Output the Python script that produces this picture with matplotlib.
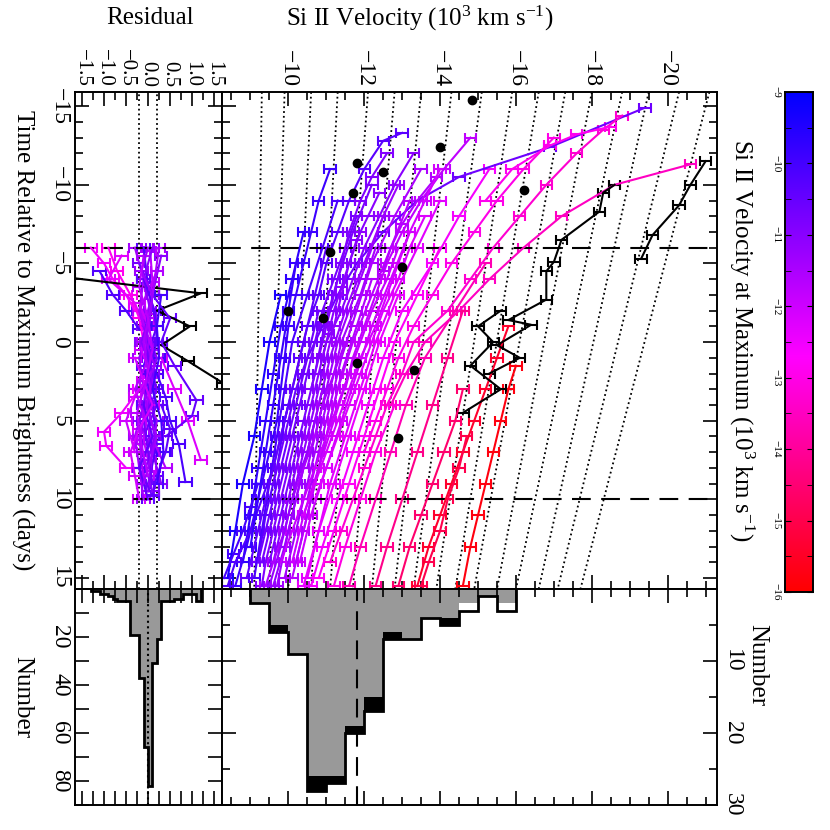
import numpy as np
import matplotlib
matplotlib.use("Agg")
import matplotlib.pyplot as plt
from matplotlib.colors import LinearSegmentedColormap, Normalize
from matplotlib.ticker import MultipleLocator, FixedLocator

plt.rcParams['font.family'] = ['Liberation Serif', 'DejaVu Serif']
plt.rcParams['mathtext.fontset'] = 'custom'
plt.rcParams['mathtext.rm'] = 'Liberation Serif'
plt.rcParams['mathtext.it'] = 'Liberation Serif:italic'
plt.rcParams['axes.linewidth'] = 1.4

# ---------------- data ----------------
# Si II velocity curves: time (days), velocity (10^3 km/s), velocity at max (None -> black)
curve_t = [
    [-3, 0, 3, 6, 9, 12, 15],
    [-7, -4, -1, 2, 5, 8, 11, 14],
    [-11, -9, -7, -5, -3, -1, 1, 3, 5, 7, 9, 11, 13, 15.5],
    [-9, -6, -3, 0, 3, 6, 9, 12, 15],
    [-13.3, -12.8, -11, -9, -7, -5, -3, -1, 1, 3, 5, 8, 11, 14],
    [-14.9, -12.4, -10.5, -9, -7, -5, -3, -1, 1, 3, 6, 9],
    [4, 6, 8, 10, 12, 14, 15.5],
    [9, 10.5, 12, 13.5, 15],
    [-6, -3, 0, 3, 6, 9, 12, 15],
    [-5, -2, 1, 4, 7, 10, 13],
    [-10, -7, -4, -1, 2, 5, 8, 11, 14],
    [-12, -10, -8, -6, -4, -2, 0, 2, 4, 6, 8, 10, 12, 14],
    [-8, -5, -2, 1, 4, 7, 10, 13, 15.5],
    [-6, -3, 0, 3, 6, 9, 12, 15],
    [-11, -8, -5, -2, 1, 4, 7, 10],
    [-4, -1, 2, 5, 8, 11, 14],
    [-9, -6, -3, 0, 3, 6, 9, 12, 15],
    [-13, -11, -9, -7, -5, -3, -1, 1, 3],
    [2, 5, 8, 11, 14],
    [-7, -5, -3, -1, 1, 3, 5, 7, 9],
    [3, 6, 9, 12, 15.5],
    [-7, -4, -1, 2, 5, 8, 11, 14],
    [-10.5, -9, -7.5, -6, -4.5],
    [6, 8, 10, 12, 14, 15.5],
    [-8, -6, -4, -2, 0, 2, 4, 6, 8, 10, 12, 14],
    [-10, -8, -6, -4, -2, 0, 2, 4, 6, 8],
    [-6, -4, -2, 0, 2, 4, 6, 8, 10, 12, 14],
    [-12, -10.5, -9, -7, -5, -3, -1, 1, 3],
    [0, 2, 4, 6, 8, 10, 12, 14, 15.5],
    [-11, -9, -7, -5, -3, -1, 1, 3, 5, 7, 9, 11],
    [-2, 0, 2, 4, 6, 8, 10, 12, 14],
    [5, 7, 9, 11, 13, 15.5],
    [-8, -6, -4, -2, 0, 2, 4, 6, 8, 10],
    [-9.5, -8, -6.5, -5, -3.5, -2, -0.5, 1],
    [-9, -6, -3, 0, 3, 6, 9, 12, 15],
    [-11, -8, -5, -2, 1, 4, 7, 10, 13, 15.5],
    [-6, -3, 0, 3, 6, 9, 12, 15],
    [-13, -11, -9, -7, -5, -3, -1, 1, 3, 5, 7],
    [-14.4, -13.5, -12, -10, -8, -6, -4, -2, 0, 2, 4, 6, 8, 10, 12, 14],
    [-11.3, -10, -8, -6, -4, -2, 0, 2, 4],
    [-3, 0, 3, 6, 9, 12, 15.5],
    [-5, -2, 1, 4, 7, 10, 13, 15.5],
    [-13.7, -13.2, -12.5, -11, -9],
    [4, 7, 10, 13, 15.5],
    [1.5, 3, 5, 7, 9, 11, 13, 15.5],
    [-1, 1, 3, 5, 7, 9, 11, 13, 15.5],
    [3, 5, 7, 9, 11, 13, 15.5],
    [-2, 1, 4, 7, 10, 13, 15.5],
    [6, 8, 10, 12, 14, 15.5],
    [-11.5, -10, -8.7, -6.8, -5.3],
    [-10, -9.5, -8.3, -6.5, -5.1, -4.5, -2.7, -1.4, -1.1, 0.2, 1.0, 2.0],
    [-2, -1, 0, 1.5, 3, 4.5],
]
curve_v = [
    [-9.8, -9.5, -9.3, -9.1, -8.8, -8.6, -8.4],
    [-10.4, -10.1, -9.8, -9.6, -9.4, -9.2, -9.0, -8.8],
    [-11.1, -10.8, -10.6, -10.4, -10.2, -10.0, -9.9, -9.8, -9.7, -9.5, -9.3, -9.1, -8.9, -8.6],
    [-11.3, -10.9, -10.5, -10.1, -9.9, -9.7, -9.5, -9.3, -9.1],
    [-13.0, -12.5, -12.0, -11.6, -11.3, -11.0, -10.8, -10.5, -10.3, -10.1, -9.9, -9.7, -9.4, -9.2],
    [-19.4, -16.9, -14.5, -13.4, -12.5, -11.8, -11.3, -10.9, -10.5, -10.2, -9.9, -9.6],
    [-10.0, -9.8, -9.6, -9.3, -9.0, -8.6, -8.4],
    [-9.2, -9.0, -8.8, -8.55, -8.3],
    [-11.0, -10.7, -10.4, -10.1, -9.8, -9.5, -9.2, -8.9],
    [-10.2, -10.0, -9.8, -9.6, -9.4, -9.2, -9.0],
    [-12.2, -11.7, -11.3, -10.95, -10.7, -10.4, -10.1, -9.8, -9.5],
    [-13.3, -12.8, -12.4, -12.0, -11.7, -11.4, -11.0, -10.8, -10.6, -10.4, -10.2, -10.0, -9.8, -9.6],
    [-12.5, -12.0, -11.5, -11.1, -10.8, -10.5, -10.2, -9.9, -9.6],
    [-12.3, -11.9, -11.4, -11.1, -10.8, -10.5, -10.2, -9.9],
    [-13.5, -12.8, -12.2, -11.8, -11.4, -11.1, -10.8, -10.5],
    [-12.2, -11.8, -11.4, -11.1, -10.8, -10.5, -10.2],
    [-13.2, -12.7, -12.2, -11.7, -11.3, -11.0, -10.7, -10.4, -10.1],
    [-14.8, -14.1, -13.5, -13.0, -12.6, -12.3, -12.0, -11.7, -11.5],
    [-11.6, -11.2, -10.8, -10.4, -10.1],
    [-11.9, -11.6, -11.4, -11.2, -11.0, -10.8, -10.6, -10.4, -10.2],
    [-10.9, -10.6, -10.3, -10.0, -9.7],
    [-13.2, -12.7, -12.2, -11.8, -11.4, -11.0, -10.6, -10.3],
    [-13.9, -13.4, -13.0, -12.7, -12.5],
    [-10.2, -10.0, -9.8, -9.6, -9.4, -9.3],
    [-11.8, -11.5, -11.2, -10.9, -10.7, -10.5, -10.3, -10.1, -9.9, -9.7, -9.5, -9.3],
    [-12.9, -12.5, -12.2, -11.9, -11.6, -11.3, -11.1, -10.9, -10.7, -10.5],
    [-12.9, -12.6, -12.2, -11.9, -11.6, -11.3, -11.0, -10.7, -10.4, -10.1, -9.8],
    [-12.6, -12.2, -11.9, -11.6, -11.4, -11.2, -11.0, -10.8, -10.6],
    [-11.5, -11.2, -10.9, -10.7, -10.4, -10.1, -9.9, -9.6, -9.4],
    [-14.0, -13.6, -13.2, -12.9, -12.6, -12.3, -11.9, -11.6, -11.3, -11.0, -10.7, -10.4],
    [-10.8, -10.6, -10.4, -10.2, -10.0, -9.8, -9.6, -9.4, -9.2],
    [-10.7, -10.5, -10.2, -10.0, -9.8, -9.5],
    [-13.6, -13.2, -12.9, -12.5, -12.2, -11.9, -11.6, -11.3, -11.0, -10.7],
    [-12.4, -12.1, -11.8, -11.6, -11.4, -11.2, -11.05, -10.9],
    [-14.0, -13.4, -12.8, -12.3, -11.9, -11.5, -11.1, -10.8, -10.5],
    [-15.3, -14.5, -13.8, -13.0, -12.5, -12.1, -11.7, -11.3, -10.9, -10.6],
    [-14.0, -13.4, -12.8, -12.4, -12.0, -11.6, -11.2, -10.8],
    [-17.0, -16.2, -15.5, -14.9, -14.3, -13.8, -13.3, -12.9, -12.6, -12.3, -12.0],
    [-18.8, -18.3, -17.6, -16.8, -16.1, -15.4, -14.8, -14.2, -13.3, -13.0, -12.6, -12.3, -12.0, -11.7, -11.4, -11.1],
    [-20.6, -18.6, -17.2, -16.2, -15.3, -14.5, -13.6, -13.1, -12.7],
    [-12.9, -12.4, -12.0, -11.6, -11.2, -10.8, -10.4],
    [-15.2, -14.4, -13.6, -13.1, -12.7, -12.3, -11.9, -11.6],
    [-18.5, -17.6, -16.9, -15.9, -15.2],
    [-12.8, -12.3, -11.9, -11.5, -11.2],
    [-16.0, -15.8, -15.6, -15.4, -15.2, -15.0, -14.8, -14.6],
    [-15.8, -15.5, -15.2, -14.9, -14.6, -14.3, -14.0, -13.7, -13.4],
    [-14.6, -14.4, -14.1, -13.8, -13.5, -13.2, -12.9],
    [-14.6, -14.2, -13.8, -13.4, -13.0, -12.6, -12.3],
    [-14.7, -14.5, -14.2, -14.0, -13.7, -13.5],
    [-21.0, -20.6, -20.3, -19.6, -19.3],
    [-18.6, -18.3, -18.2, -17.2, -17.0, -16.8, -16.8, -15.8, -16.4, -15.5, -16.1, -15.3],
    [-15.6, -15.0, -15.4, -14.8, -15.6, -14.6],
]
curve_vmax = [-9.4, -9.7, -9.9, -10.1, -10.3, -10.6, -10.2, -10.0, -10.4, -9.8,
              -10.8, -11.0, -11.2, -11.4, -11.5, -11.6, -11.7, -11.8, -11.9, -11.1,
              -11.3, -12.0, -11.6, -10.9,
              -10.7, -11.3, -11.9, -10.9, -11.5, -12.1, -10.6, -11.2, -12.2, -11.0,
              -12.3, -12.6, -12.8, -13.0, -13.3, -13.5, -12.4, -13.7, -12.9, -13.1,
              -15.8, -15.4, -14.6, -14.2, -15.0,
              None, None, None]
curve_err = [0.15] * len(curve_t)

# comparison points (black dots)
dot_t = [-15.4, -12.4, -11.4, -10.8, -9.7, -9.5, -5.7, -4.8, -2.0, -1.5, 1.3, 1.8, 6.1]
dot_v = [-14.85, -14.0, -11.8, -12.5, -16.2, -11.7, -11.1, -13.0, -10.0, -10.9, -11.8, -13.3, -12.9]

# dotted model lines: velocity at top (t=-15.9) and bottom (t=15.7)
model_v_top = [-9.3, -9.9, -10.6, -11.3, -12.1, -12.8, -13.5, -14.3, -15.1, -15.9,
               -16.6, -17.3, -18.0, -18.8, -19.5, -20.3, -21.1]
model_v_bot = [-9.1, -9.5, -10.0, -10.6, -11.1, -11.7, -12.2, -12.8, -13.3, -13.9,
               -14.4, -14.9, -15.5, -16.0, -16.6, -17.1, -17.7]
model_t_ends = [-15.9, 15.7]

# residual curves (time, residual, velocity at max)
res_t = [
    [-6, -5, -4, -3, -2],
    [-6, -4.5, -3, -1.5, 0],
    [-5.5, -4, -2.5, -1, 0.5],
    [-4.5, -3, -2, -0.8],
    [-4.1, -3.1, -2, -1, 0.2, 1.2, 2.6],
    [-6, -4, -2, 0, 2, 4, 6, 8, 10],
    [-5.5, -3, -1, 1, 3, 5, 7, 9],
    [-6, -3.5, -1, 1.5, 4, 6.5, 9],
    [-4.5, -2, 0.5, 3, 5.5, 8],
    [-3, -1.5, 0, 1.5, 3.7, 4.7, 6],
    [2, 3.5, 5, 6.5, 8.9],
    [1, 3, 5, 7.5],
    [3, 4.5, 5.7, 6.6, 8],
    [-1, 1, 3, 5, 7, 9.5],
    [0, 2, 4, 6, 8, 9.8],
    [-5.8, -3.8, -1.8, 0.2, 2.2, 4.2, 6.2, 8.2],
    [-2.5, -1, 0.5, 2, 3.5, 5, 7],
    [4, 5.5, 7, 8.5, 9.7],
    [-6, -4, -2, 0, 2, 4, 6, 8, 9.5],
    [-5, -3, -1, 1, 3, 5, 7, 9],
    [-6, -3, 0, 3, 6, 9],
    [-4, -2, 0, 2, 4, 6, 8, 10],
    [-6, -4.5, -3, -1.5, 0, 1.5, 3, 4.5, 6, 7.5, 9],
    [1, 2.5, 4, 5.5, 7, 8.5, 10],
    [-3, -1, 1, 3, 5, 7, 9],
    [-5.5, -3.5, -1.5, 0.5, 2.5, 4.5, 6.5, 8.5],
]
res_r = [
    [-1.3, -1.0, -0.8, -0.5, -0.3],
    [-0.9, -0.7, -0.4, -0.2, -0.1],
    [-0.6, -0.9, -0.3, -0.1, 0.0],
    [-1.1, -0.8, -0.5, -0.2],
    [-1.8, 1.2, 0.2, 0.95, 0.3, 0.9, 1.7],
    [-0.3, -0.1, -0.2, 0.0, 0.1, -0.1, -0.3, -0.2, -0.1],
    [0.3, 0.1, -0.1, 0.2, 0.0, -0.2, 0.1, 0.3],
    [-0.1, 0.0, 0.2, -0.1, 0.1, 0.2, 0.0],
    [0.2, -0.2, 0.1, -0.3, 0.0, 0.4],
    [0.1, 0.5, 0.3, 0.6, 1.1, 1.0, 0.4],
    [0.2, 0.4, 0.5, 0.7, 0.85],
    [0.3, 0.6, 0.9, 1.2],
    [-0.2, -0.6, -1.0, -0.95, -0.5],
    [0.0, -0.2, -0.1, 0.2, 0.1, 0.0],
    [0.1, 0.0, 0.2, -0.1, -0.2, 0.1],
    [0.05, 0.1, 0.0, -0.05, 0.1, 0.0, -0.1, 0.05],
    [-0.2, 0.0, -0.15, 0.05, -0.3, -0.5, -0.3],
    [0.3, 0.5, 0.4, 0.2, 0.1],
    [0.1, -0.1, 0.05, -0.15, 0.1, 0.0, 0.15, -0.05, 0.1],
    [-0.2, 0.1, -0.05, 0.0, 0.2, -0.1, 0.0, 0.1],
    [0.25, 0.1, -0.1, 0.05, -0.2, -0.1],
    [-0.1, 0.15, 0.2, 0.0, -0.1, 0.1, -0.2, 0.0],
    [0.0, -0.15, 0.1, 0.05, -0.05, 0.15, -0.1, 0.0, 0.2, 0.05, -0.1],
    [-0.3, -0.1, 0.1, -0.2, -0.4, -0.3, -0.2],
    [0.3, 0.2, 0.25, 0.1, 0.3, 0.35, 0.2],
    [-0.1, -0.2, 0.0, 0.1, -0.05, -0.25, -0.15, 0.0],
]
res_vmax = [-12.6, -12.9, -12.3, -10.2, None, -11.4, -11.0, -10.3, -11.6, -10.5,
            -10.1, -12.2, -12.5, -11.2, -10.6, -11.8, -12.0, -10.4,
            -11.0, -10.7, -11.5, -10.4, -11.3, -12.1, -10.0, -11.7]

# histograms
vel_edges = np.arange(-9.0, -16.01, -0.5)
vel_total = [2, 6, 9, 28, 27, 20, 17, 7, 7, 4, 5, 3, 1, 3]
vel_black = [2, 6, 9, 28, 27, 20, 17, 7, 7, 4, 5, 2, 1, 2]
vel_gray = [2, 5, 9, 26, 26, 19, 15, 6, 7, 4, 4, 2, 1, 2]
vel_mean = -11.8

res_edges = np.round(np.arange(-1.3, 1.21, 0.1), 2)
res_counts = [1, 1, 2, 2, 3, 4, 5, 5, 5, 19, 19, 37, 66, 82, 31, 21, 5, 5, 5, 4, 4, 2, 2, 2, 5]

# ---------------- figure ----------------
W = 830.0
fig = plt.figure(figsize=(8.3, 8.3), dpi=100)


def box(x0, y0, x1, y1):
    return [x0 / W, 1 - y1 / W, (x1 - x0) / W, (y1 - y0) / W]


ax_res = fig.add_axes(box(75, 92, 222, 589))
ax_main = fig.add_axes(box(222, 92, 717, 589))
ax_hres = fig.add_axes(box(75, 589, 222, 805))
ax_hmain = fig.add_axes(box(222, 589, 717, 805))
ax_cb = fig.add_axes(box(785, 92, 813, 592))

# blue (-9) -> magenta (~-12.7) -> red (-16)
cmap = LinearSegmentedColormap.from_list('bmr', [(0.0, (1, 0, 0)), (0.47, (1, 0, 1)), (1.0, (0, 0, 1))])
norm = Normalize(vmin=-16, vmax=-9)

vlim = (-8.25, -21.3)
tlim = (15.7, -15.9)
rlim = (-1.66, 1.68)
dash = (0, (9, 5))

# main panel
for v0, v1 in zip(model_v_top, model_v_bot):
    ax_main.plot([v0, v1], model_t_ends, ls=':', color='black', lw=1.3)
for t, v, vm, e in zip(curve_t, curve_v, curve_vmax, curve_err):
    c = 'black' if vm is None else cmap(norm(vm))
    ax_main.errorbar(v, t, xerr=e, color=c, lw=1.5, capsize=3.5, capthick=1.5, elinewidth=1.5)
ax_main.plot(dot_v, dot_t, 'o', color='black', ms=6, zorder=5)
ax_main.set_xlim(*vlim)
ax_main.set_ylim(*tlim)

# residual panel
for x in (-0.2, 0.2):
    ax_res.axvline(x, ls=':', color='black', lw=1.3)
for t, r, vm in zip(res_t, res_r, res_vmax):
    c = 'black' if vm is None else cmap(norm(vm))
    ax_res.errorbar(r, t, xerr=0.14, color=c, lw=1.5, capsize=3.5, capthick=1.5)
ax_res.set_xlim(*rlim)
ax_res.set_ylim(*tlim)

for ax in (ax_res, ax_main):
    ax.axhline(-6, ls=dash, color='black', lw=1.5)
    ax.axhline(10, ls=dash, color='black', lw=1.5)

# histograms
ax_hmain.stairs(vel_black, vel_edges, fill=True, color='black')
ax_hmain.stairs(vel_gray, vel_edges, fill=True, color='#999999')
ax_hmain.stairs(vel_total, vel_edges, color='black', lw=2)
ax_hmain.axvline(vel_mean, ls=dash, color='black', lw=1.5)
ax_hmain.set_xlim(*vlim)
ax_hmain.set_ylim(30, 0)

ax_hres.stairs(res_counts, res_edges, fill=True, color='#999999')
ax_hres.stairs(res_counts, res_edges, color='black', lw=2)
ax_hres.axvline(0, ls=':', color='black', lw=1.5)
ax_hres.set_xlim(*rlim)
ax_hres.set_ylim(90, 0)

# ticks
tick_kw = dict(direction='in', top=True, bottom=True, left=True, right=True)
for ax in (ax_res, ax_main, ax_hres, ax_hmain):
    ax.tick_params(which='both', **tick_kw)
    ax.tick_params(which='major', length=10, width=1.2)
    ax.tick_params(which='minor', length=6, width=1.2)

ax_main.xaxis.set_minor_locator(MultipleLocator(0.5))
ax_hmain.xaxis.set_major_locator(MultipleLocator(2))
ax_hmain.xaxis.set_minor_locator(MultipleLocator(0.5))
for ax in (ax_res, ax_main):
    ax.yaxis.set_major_locator(MultipleLocator(5))
    ax.yaxis.set_minor_locator(MultipleLocator(1))
for ax in (ax_res, ax_hres):
    ax.xaxis.set_minor_locator(MultipleLocator(0.25))

ax_main.tick_params(labelbottom=False, labeltop=True, labelleft=False)
ax_main.set_xticks(np.arange(-10, -21, -2))
ax_main.set_xticklabels(['\u2212%d' % v for v in range(10, 21, 2)], rotation=-90, fontsize=17)

ax_res.tick_params(labelbottom=False, labeltop=True)
ax_res.set_xticks(np.arange(-1.5, 1.51, 0.5))
ax_res.set_xticklabels(['\u22121.5', '\u22121.0', '\u22120.5', '0.0', '0.5', '1.0', '1.5'],
                       rotation=-90, fontsize=15)
ax_res.set_yticks(np.arange(-15, 16, 5))
ax_res.set_yticklabels(['\u221215', '\u221210', '\u22125', '0', '5', '10', '15'],
                       rotation=-90, fontsize=17, va='center')

ax_hmain.tick_params(labelbottom=False, labelleft=False, labelright=True)
ax_hmain.yaxis.set_major_locator(FixedLocator([10, 20, 30]))
ax_hmain.yaxis.set_minor_locator(MultipleLocator(5))
ax_hmain.set_yticklabels(['10', '20', '30'], rotation=-90, fontsize=17, va='center')

ax_hres.tick_params(labelbottom=False, labeltop=False)
ax_hres.yaxis.set_major_locator(FixedLocator([20, 40, 60, 80]))
ax_hres.yaxis.set_minor_locator(MultipleLocator(10))
ax_hres.tick_params(which='minor', length=10)
ax_hres.set_yticklabels(['20', '40', '60', '80'], rotation=-90, fontsize=17, va='center')

# colorbar
grad = np.linspace(-16, -9, 256).reshape(-1, 1)
ax_cb.imshow(grad, aspect='auto', cmap=cmap, norm=norm, origin='lower', extent=[0, 1, -16, -9])
ax_cb.set_xticks([])
ax_cb.set_yticks(np.arange(-16, -8, 1))
ax_cb.yaxis.set_minor_locator(MultipleLocator(0.5))
ax_cb.tick_params(which='both', direction='in', left=True, right=True, length=4)
ax_cb.set_yticklabels(['\u2212%d' % -v for v in range(-16, -8, 1)], rotation=-90, fontsize=8, va='center')

# axis titles
fig.text(150 / W, 1 - 18 / W, 'Residual', ha='center', va='center', fontsize=18)
fig.text(420 / W, 1 - 18 / W, r'Si II Velocity (10$^{3}$ km s$^{-1}$)', ha='center', va='center', fontsize=18)
fig.text(23 / W, 1 - 340 / W, 'Time Relative to Maximum Brightness (days)', rotation=-90,
         ha='center', va='center', fontsize=18)
fig.text(22 / W, 1 - 697 / W, 'Number', rotation=-90, ha='center', va='center', fontsize=18)
fig.text(757 / W, 1 - 665 / W, 'Number', rotation=-90, ha='center', va='center', fontsize=18)
fig.text(742 / W, 1 - 340 / W, r'Si II Velocity at Maximum (10$^{3}$ km s$^{-1}$)', rotation=-90,
         ha='center', va='center', fontsize=18)

fig.savefig('out.png', dpi=100)
